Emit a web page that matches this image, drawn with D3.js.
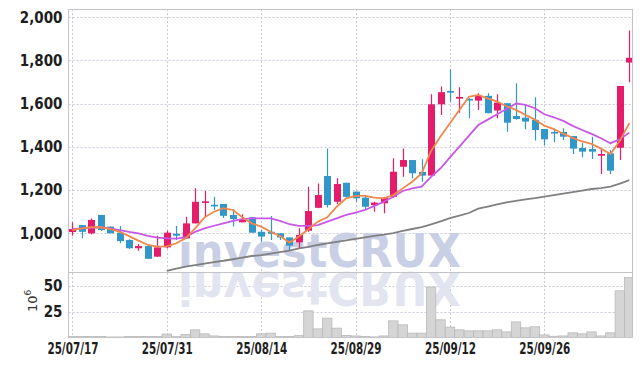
<!DOCTYPE html>
<html><head><meta charset="utf-8">
<script src="https://cdn.jsdelivr.net/npm/d3@7"></script>
<style>body{margin:0;background:#fff}svg{display:block}</style>
</head><body><svg id="c" width="642" height="366"></svg>
<script>
const dates = ["25/07/17","25/07/18","25/07/21","25/07/22","25/07/23","25/07/24","25/07/25","25/07/28","25/07/29","25/07/30",
"25/07/31","25/08/01","25/08/04","25/08/05","25/08/06","25/08/07","25/08/08","25/08/11","25/08/12","25/08/13",
"25/08/14","25/08/18","25/08/19","25/08/20","25/08/21","25/08/22","25/08/25","25/08/26","25/08/27","25/08/28",
"25/08/29","25/09/01","25/09/02","25/09/03","25/09/04","25/09/05","25/09/08","25/09/09","25/09/10","25/09/11",
"25/09/12","25/09/15","25/09/16","25/09/17","25/09/18","25/09/19","25/09/22","25/09/23","25/09/24","25/09/25",
"25/09/26","25/09/29","25/09/30","25/10/01","25/10/02","25/10/10","25/10/13","25/10/14","25/10/15","25/10/16"];
const openP = [1006,1038,1000,1085,1031,1003,969,931,941,892, 935,998,977,1046,1142,1132,1136,1085,1051,1074,
1007,1007,1000,981,958,1012,1118,1265,1146,1234, 1193,1165,1130,1139,1169,1308,1339,1284,1267,1597,
1659,1623,1622,1614,1636,1568,1602,1543,1535,1525, 1483,1469,1469,1450,1395,1390,1359,1370,1396,1790];
const highP = [1051,1038,1069,1085,1031,1034,972,950,941,989, 1012,1034,1077,1208,1196,1169,1136,1113,1088,1074,
1015,1080,1000,981,1023,1216,1231,1393,1255,1234, 1193,1177,1146,1169,1347,1393,1339,1343,1644,1679,
1759,1676,1625,1648,1648,1644,1602,1694,1594,1630, 1483,1484,1486,1450,1419,1447,1393,1386,1682,1938];
const lowP = [989,977,995,1011,1000,954,928,919,882,892, 930,969,975,1046,1074,1108,1071,1031,1051,1003,
961,969,969,923,931,1007,1116,1120,1136,1165, 1146,1108,1100,1093,1165,1262,1255,1239,1267,1548,
1609,1558,1532,1571,1556,1532,1470,1525,1481,1429, 1407,1421,1432,1367,1352,1344,1275,1275,1339,1699];
const closeP = [1020,1007,1062,1015,1000,964,931,941,882,935, 1003,989,1046,1146,1148,1128,1081,1066,1062,1003,
985,998,981,943,992,1103,1177,1131,1228,1169, 1162,1123,1142,1165,1285,1339,1278,1267,1597,1653,
1651,1631,1616,1636,1556,1605,1512,1529,1517,1478, 1435,1464,1447,1392,1378,1378,1367,1290,1682,1812];
const volume = [1,1,1,1,0.5,0.5,1,1,1,1, 3.3,0.8,3,7.4,3.5,1.5,1,1,1,1,
3.5,4.2,1,1,1.8,25.6,8.3,18.6,9,2, 1.5,1,0.6,1.5,16,12.2,4.2,4.2,48.5,17,
10,7.4,6.4,6.4,6.4,7.4,5.4,15,9.3,10.3, 2.5,1.2,1.5,4.5,3.5,5.4,1.5,4.5,44.9,57.7];
const ma5 = [1015,1023,1028,1028,1020,1007,987,966,946,938, 940,954,977,1023,1074,1100,1116,1108,1074,1046,
1031,1007,987,957,985,1019,1054,1074,1123,1162, 1173,1173,1165,1162,1177,1208,1239,1277,1381,1448,
1509,1571,1632,1640,1624,1609,1588,1571,1548,1526, 1498,1482,1461,1442,1425,1414,1392,1367,1428,1510];
const ma20 = [1019,1023,1026,1028,1023,1015,1007,1000,988,980, 977,975,981,1007,1023,1035,1046,1058,1066,1069,
1069,1069,1058,1042,1034,1034,1038,1054,1069,1085, 1096,1108,1127,1146,1169,1196,1208,1216,1261,1301,
1351,1401,1451,1501,1526,1551,1575,1601,1594,1579, 1551,1537,1520,1497,1478,1460,1440,1417,1435,1466];
const ma60 = [null,null,null,null,null,null,null,null,null,null,
826,837,846,853,860,867,873,880,888,895, 899,906,913,920,930,937,946,953,960,967,
974,981,988,994,1001,1011,1020,1029,1041,1055, 1070,1082,1094,1114,1124,1134,1143,1150,1157,1163,
1170,1177,1184,1191,1198,1205,1209,1216,1230,1246];
const yTicks = [1000,1200,1400,1600,1800,2000];
const volTicks = [25,50];
const xTicks = ["25/07/17","25/07/31","25/08/14","25/08/29","25/09/12","25/09/26"];

const svg = d3.select("#c");
const L = 68.5, R = 632.5, T = 9, MB = 272, VB = 337.5;
const x = d3.scalePoint().domain(dates).range([72.4, 629.3]);
const y = d3.scaleLinear().domain([821, 2038]).range([MB, T]);
const yv = d3.scaleLinear().domain([0, 63]).range([VB, MB]);
const UP = "#e41c69", DN = "#3196c8";
const font = "'Liberation Sans Narrow','DejaVu Sans Condensed','Roboto Condensed',sans-serif";

const defs = svg.append("defs");
defs.append("clipPath").attr("id","cm").append("rect").attr("x",L).attr("y",T).attr("width",R-L).attr("height",MB-T);
defs.append("clipPath").attr("id","cv").append("rect").attr("x",L).attr("y",MB).attr("width",R-L).attr("height",VB-MB);

// gridlines
const grid = svg.append("g").attr("stroke","#c9c9da").attr("stroke-width",1).attr("stroke-dasharray","2,2");
grid.selectAll(".h").data(yTicks).join("line").attr("x1",L).attr("x2",R)
  .attr("y1",d=>Math.round(y(d))+0.5).attr("y2",d=>Math.round(y(d))+0.5);
grid.selectAll(".hv").data(volTicks).join("line").attr("x1",L).attr("x2",R)
  .attr("y1",d=>Math.round(yv(d))+0.5).attr("y2",d=>Math.round(yv(d))+0.5);
grid.selectAll(".v").data(xTicks).join("line").attr("y1",T).attr("y2",VB)
  .attr("x1",d=>Math.round(x(d))+0.5).attr("x2",d=>Math.round(x(d))+0.5);

// watermark
const wm = svg.append("g").attr("font-family","'DejaVu Sans',sans-serif").attr("font-weight","bold");
wm.append("text").attr("x",178).attr("y",267).attr("font-size",47).attr("textLength",283)
  .attr("lengthAdjust","spacingAndGlyphs").attr("fill","#c9d0e6").text("investCRUX");
wm.append("g").attr("transform","translate(0,539) scale(1,-1)")
  .append("text").attr("x",178).attr("y",267).attr("font-size",47).attr("textLength",283)
  .attr("lengthAdjust","spacingAndGlyphs").attr("fill","#e2e5f0").text("investCRUX");

// volume
const vg = svg.append("g").attr("clip-path","url(#cv)");
vg.selectAll("rect").data(dates).join("rect")
  .attr("x",d=>x(d)-4.7).attr("width",9.4)
  .attr("y",(d,i)=>yv(volume[i])).attr("height",(d,i)=>VB-yv(volume[i]))
  .attr("fill","#d5d5d5").attr("stroke","#b9b9b9").attr("stroke-width",0.8);

// candles
const cg = svg.append("g").attr("clip-path","url(#cm)");
const col = i => closeP[i] > openP[i] ? UP : DN;
cg.selectAll("line").data(dates).join("line")
  .attr("x1",d=>Math.round(x(d))+0.5).attr("x2",d=>Math.round(x(d))+0.5)
  .attr("y1",(d,i)=>y(highP[i])).attr("y2",(d,i)=>y(lowP[i]))
  .attr("stroke",(d,i)=>col(i)).attr("stroke-width",1.2);
cg.selectAll("rect").data(dates).join("rect")
  .attr("x",d=>Math.round(x(d))-3).attr("width",7)
  .attr("y",(d,i)=>y(Math.max(openP[i],closeP[i])))
  .attr("height",(d,i)=>Math.max(1.6, Math.abs(y(openP[i])-y(closeP[i]))))
  .attr("fill",(d,i)=>col(i));

// moving averages
const mkLine = arr => d3.line().defined((d,i)=>arr[i]!=null).x(d=>x(d)).y((d,i)=>y(arr[i]));
cg.append("path").attr("d",mkLine(ma60)(dates)).attr("fill","none").attr("stroke","#808080").attr("stroke-width",1.8);
cg.append("path").attr("d",mkLine(ma20)(dates)).attr("fill","none").attr("stroke","#c957e6").attr("stroke-width",1.8);
cg.append("path").attr("d",mkLine(ma5)(dates)).attr("fill","none").attr("stroke","#ef884c").attr("stroke-width",1.8);

// frame
const fr = svg.append("g").attr("stroke","#c4c4c8").attr("stroke-width",1).attr("fill","none");
fr.append("rect").attr("x",L).attr("y",T+0.5).attr("width",R-L).attr("height",VB-T-0.5);
fr.append("line").attr("x1",L).attr("x2",R).attr("y1",MB+0.5).attr("y2",MB+0.5);

// axes
const ay = svg.append("g").attr("transform",`translate(${L},0)`)
  .call(d3.axisLeft(y).tickValues(yTicks).tickFormat(d3.format(",")).tickSize(0).tickPadding(6));
const av = svg.append("g").attr("transform",`translate(${L},0)`)
  .call(d3.axisLeft(yv).tickValues(volTicks).tickSize(0).tickPadding(6));
const ax = svg.append("g").attr("transform",`translate(0,${VB})`)
  .call(d3.axisBottom(x).tickValues(xTicks).tickSize(0).tickPadding(6));
[ay,av,ax].forEach(g=>{
  g.select(".domain").remove();
  g.selectAll("text").attr("font-family",font).attr("font-weight","bold").attr("font-size",15).attr("fill","#1e1e1e");
});
ax.selectAll("text").attr("textLength",51).attr("lengthAdjust","spacingAndGlyphs");

// 10^6 unit label
const ul = svg.append("text").attr("transform","translate(37,312) rotate(-90)")
  .attr("font-family","'DejaVu Sans',sans-serif").attr("font-size",13).attr("fill","#333");
ul.append("tspan").text("10");
ul.append("tspan").attr("dy",-6).attr("font-size",9).text("6");
</script></body></html>
